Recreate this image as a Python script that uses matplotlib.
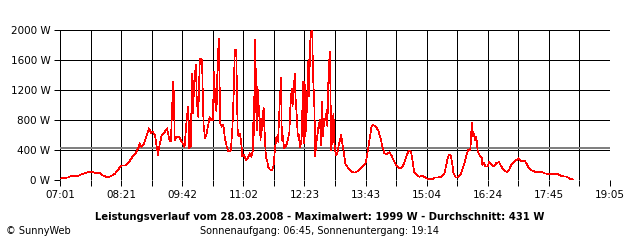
import numpy as np
import matplotlib
matplotlib.use('Agg')
import matplotlib.pyplot as plt

# minutes since midnight / power in W
minutes = [422, 432, 435, 445, 453, 462, 467, 473, 478, 484, 489, 493, 497, 502, 508,
           513, 517, 521, 524, 526, 528, 531, 534, 538, 541, 543, 546, 548, 550, 552,
           555, 559, 562, 565, 567, 568, 570, 571, 572, 575, 578, 580, 585, 588, 590,
           591, 593, 595, 596, 598, 600, 601, 603, 605, 606, 608, 609, 610, 612, 614,
           616, 618, 620, 622, 624, 625, 627, 628, 630, 631, 632, 634, 636, 638, 640,
           642, 644, 646, 648, 650, 651, 653, 654, 655, 657, 658, 660, 661, 663, 666,
           668, 671, 673, 675, 676, 677, 678, 679, 680, 681, 682, 683, 685, 686, 687,
           689, 690, 692, 694, 695, 697, 700, 702, 703, 704, 706, 708, 710, 712, 713,
           714, 716, 719, 721, 723, 724, 726, 727, 729, 730, 731, 733, 734, 735, 737,
           739, 741, 742, 743, 744, 746, 747, 748, 749, 750, 751, 753, 754, 756, 757,
           758, 759, 761, 763, 765, 766, 767, 769, 771, 772, 773, 774, 776, 777, 778,
           779, 781, 782, 784, 786, 788, 791, 793, 795, 797, 799, 801, 804, 807, 809,
           814, 818, 823, 825, 827, 829, 831, 833, 837, 840, 843, 846, 848, 851, 855,
           858, 861, 864, 868, 871, 874, 877, 880, 883, 885, 887, 891, 894, 897, 900,
           904, 908, 912, 914, 919, 923, 927, 929, 931, 933, 935, 937, 939, 942, 945,
           948, 952, 955, 958, 961, 962, 963, 965, 966, 967, 969, 971, 974, 976, 977,
           979, 981, 984, 986, 989, 992, 995, 999, 1002, 1005, 1009, 1012, 1015, 1019, 1022,
           1025, 1028, 1033, 1035, 1038, 1041, 1046, 1055, 1059, 1066, 1077, 1081, 1088, 1092, 1096]
power = [20, 35, 50, 57, 90, 115, 97, 97, 57, 35, 57, 80, 133, 195, 195,
         257, 320, 364, 422, 489, 444, 467, 556, 689, 622, 644, 600, 467, 333, 467,
         600, 644, 689, 533, 511, 800, 1311, 1111, 533, 578, 569, 533, 444, 836, 978,
         422, 444, 1422, 889, 1356, 1533, 1067, 844, 1600, 1622, 1600, 1111, 733, 556, 622,
         733, 836, 800, 800, 1444, 1067, 911, 1378, 1889, 1333, 756, 711, 733, 556, 467,
         391, 378, 400, 711, 1244, 1742, 1733, 1111, 600, 578, 622, 444, 320, 333, 267,
         289, 356, 311, 400, 1111, 600, 1867, 1178, 667, 1244, 1067, 933, 533, 822, 667,
         969, 711, 311, 244, 178, 142, 133, 178, 289, 422, 578, 511, 978, 1356, 533,
         600, 422, 467, 533, 644, 933, 1222, 978, 1244, 1422, 1111, 800, 578, 622, 444,
         533, 1311, 489, 1311, 578, 956, 1333, 1600, 1111, 1733, 1956, 1999, 1422, 933, 311,
         467, 533, 689, 800, 467, 1044, 578, 822, 800, 933, 711, 1244, 1711, 1222, 400,
         533, 889, 511, 333, 356, 467, 600, 467, 333, 200, 178, 156, 124, 98, 98,
         124, 169, 222, 311, 444, 578, 711, 733, 711, 658, 556, 422, 356, 347, 369,
         311, 244, 187, 156, 169, 222, 320, 391, 378, 267, 111, 67, 44, 57, 44,
         22, 9, 9, 35, 35, 44, 89, 178, 276, 333, 333, 244, 89, 35, 35,
         67, 178, 289, 400, 400, 533, 764, 578, 622, 533, 578, 378, 320, 302, 200,
         231, 178, 178, 244, 200, 178, 222, 240, 178, 133, 107, 133, 200, 244, 267,
         289, 253, 253, 222, 164, 133, 111, 111, 89, 76, 76, 53, 44, 18, 9]
average = 431
max_value = 1999
day = '28.03.2008'
t_start, t_end = 421, 1145   # 07:01 .. 19:05
y_ticks = [0, 400, 800, 1200, 1600, 2000]

PX = 0.72  # one pixel in points at 100 dpi

fig = plt.figure(figsize=(6.4, 2.4), dpi=100)
ax = fig.add_axes([60/640, 1-180/240, 550/640, 150/240])

grid_x = np.linspace(t_start, t_end, 19)
labels = []
for i, g in enumerate(grid_x):
    if i % 2 == 0:
        m = int(round(g))
        labels.append('%02d:%02d' % (m // 60, m % 60))
    else:
        labels.append('')

for g in grid_x:
    ax.axvline(g, color='black', lw=PX, antialiased=False, zorder=1)
for v in y_ticks:
    ax.axhline(v, color='black', lw=PX, antialiased=False, zorder=1)
ax.axhline(average, color='#808080', lw=PX * 1.5, antialiased=False, zorder=2)

ax.plot(minutes, power, color='red', lw=0.5, antialiased=False, zorder=3)

ax.set_xlim(t_start, t_end)
ax.set_ylim(0, 2000)
ax.set_xticks(grid_x)
ax.set_xticklabels(labels)
ax.set_yticks(y_ticks)
ax.set_yticklabels(['%d W' % v for v in y_ticks])
ax.tick_params(direction='out', length=4, width=PX, labelsize=7.5, pad=3)
for s in ax.spines.values():
    s.set_visible(False)

fig.text(0.5, 1-217/240, 'Leistungsverlauf vom %s - Maximalwert: %d W - Durchschnitt: %d W'
         % (day, max_value, average), ha='center', va='center', fontsize=7.2, fontweight='bold')
fig.text(0.5, 1-231/240, 'Sonnenaufgang: 06:45, Sonnenuntergang: 19:14',
         ha='center', va='center', fontsize=7)
fig.text(6/640, 1-231/240, '\u00a9 SunnyWeb', ha='left', va='center', fontsize=7)

fig.savefig('out.png', dpi=100)
